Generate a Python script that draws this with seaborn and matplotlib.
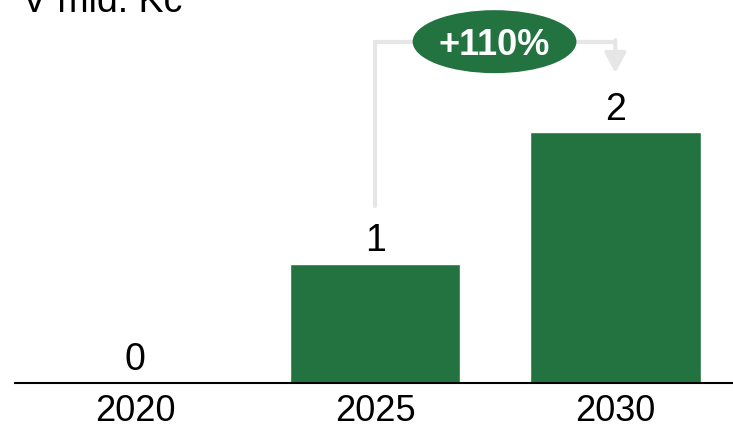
import matplotlib
matplotlib.use("Agg")
import matplotlib.pyplot as plt
from matplotlib.patches import Ellipse
import seaborn as sns
import pandas as pd

years = ["2020", "2025", "2030"]
values = [0.0, 0.95, 2.0]
labels = ["0", "1", "2"]
growth_label = "+110%"
title = "V mld. Kč"

GREEN = "#22733F"
GREY = "#E6E6E6"

sns.set_style("white")
plt.rcParams["font.family"] = ["Liberation Sans", "DejaVu Sans"]

df = pd.DataFrame({"year": years, "value": values})

fig = plt.figure(figsize=(7.33, 4.34), dpi=100)
ax = fig.add_axes([15 / 733, 51 / 434, 1 - 15 / 733, 1 - 51 / 434])
sns.barplot(data=df, x="year", y="value", color=GREEN, width=0.71,
            saturation=1, ax=ax)

ax.set_xlim(-0.5, 2.49)
ax.set_ylim(0, 3.052)
ax.set_xlabel("")
ax.set_ylabel("")
ax.set_yticks([])
for s in ["top", "right", "left"]:
    ax.spines[s].set_visible(False)
ax.spines["bottom"].set_color("black")
ax.spines["bottom"].set_linewidth(1.5)
ax.tick_params(axis="x", length=0, pad=8, labelsize=26, colors="black")

for i, (v, lab) in enumerate(zip(values, labels)):
    ax.annotate(lab, xy=(i, v), xytext=(0, 9), textcoords="offset points",
                ha="center", va="baseline", fontsize=27, color="black")

# growth bracket
y_top = 2.72
ax.plot([1, 1, 2], [1.41, y_top, y_top], color=GREY, lw=3,
        solid_joinstyle="miter", zorder=1)
ax.annotate("", xy=(2, 2.47), xytext=(2, y_top + 0.012),
            arrowprops=dict(arrowstyle="-|>,head_length=0.6,head_width=0.32",
                            color=GREY, lw=3, shrinkA=0, shrinkB=0,
                            mutation_scale=20), zorder=1)
ell = Ellipse((1.497, y_top), width=0.682, height=0.502, facecolor=GREEN,
              edgecolor="none", zorder=3)
ax.add_patch(ell)
ax.text(1.497, y_top, growth_label, ha="center", va="center_baseline",
        fontsize=26, fontweight="bold", color="white", zorder=4)

fig.text(22 / 733, 1 - 12 / 434, title, ha="left", va="baseline",
         fontsize=27, color="black")

fig.savefig("out.png", dpi=100)
